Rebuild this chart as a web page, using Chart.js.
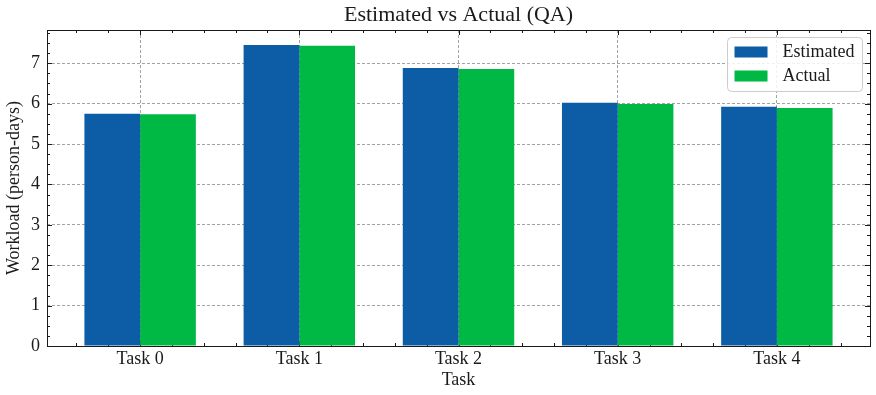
<!DOCTYPE html>
<html>
<head>
<meta charset="utf-8">
<script src="https://cdn.jsdelivr.net/npm/chart.js@4.4.1/dist/chart.umd.min.js"></script>
<style>
  html, body { margin: 0; padding: 0; background: #fff; }
  canvas { display: block; }
</style>
</head>
<body>
<canvas id="qaChart" width="876" height="395"></canvas>
<script>
const categories = ['Task 0', 'Task 1', 'Task 2', 'Task 3', 'Task 4'];
const estimated = [5.75, 7.45, 6.88, 6.02, 5.92];
const actual = [5.74, 7.43, 6.86, 5.99, 5.89];
const seriesNames = ['Estimated', 'Actual'];
const yTicks = [0, 1, 2, 3, 4, 5, 6, 7];

const FONT = "'Liberation Serif', 'Times New Roman', serif";
const INK = '#1a1a1a';

// matplotlib-style autoscale margins
const yMax = Math.max(...estimated, ...actual) * 1.05;
const xMin = -0.35 - 0.05 * (categories.length - 1 + 0.7);
const xMax = categories.length - 1 + 0.35 + 0.05 * (categories.length - 1 + 0.7);

// inward ticks on all four sides, like the scienceplots style
const inwardTicks = {
  id: 'inwardTicks',
  beforeDatasetsDraw(chart) {
    const {ctx, chartArea: a, scales: {x, y}} = chart;
    ctx.save();
    ctx.strokeStyle = INK;
    ctx.lineWidth = 1;
    ctx.beginPath();
    const xt = (v, len) => {
      const p = Math.round(x.getPixelForValue(v)) + 0.5;
      ctx.moveTo(p, a.bottom); ctx.lineTo(p, a.bottom - len);
      ctx.moveTo(p, a.top); ctx.lineTo(p, a.top + len);
    };
    const yt = (v, len) => {
      const p = Math.round(y.getPixelForValue(v)) + 0.5;
      ctx.moveTo(a.left, p); ctx.lineTo(a.left + len, p);
      ctx.moveTo(a.right, p); ctx.lineTo(a.right - len, p);
    };
    for (let k = Math.ceil(xMin * 5); k <= Math.floor(xMax * 5); k++) {
      xt(k / 5, k % 5 === 0 ? 5 : 3);
    }
    for (let k = 1; k * 0.25 < yMax; k++) {
      yt(k / 4, k % 4 === 0 ? 5 : 3);
    }
    ctx.stroke();
    ctx.restore();
  },
  afterDatasetsDraw(chart) {
    const {ctx, chartArea: a} = chart;
    ctx.save();
    ctx.strokeStyle = INK;
    ctx.lineWidth = 1;
    ctx.strokeRect(Math.round(a.left) + 0.5, Math.round(a.top) + 0.5,
      Math.round(a.right - a.left), Math.round(a.bottom - a.top));
    ctx.restore();
  }
};

// boxed legend in the upper right corner of the axes
const boxLegend = {
  id: 'boxLegend',
  afterDraw(chart) {
    const {ctx, chartArea: a} = chart;
    const sets = chart.data.datasets;
    ctx.save();
    ctx.font = `18px ${FONT}`;
    const textW = Math.max(...sets.map(d => ctx.measureText(d.label).width));
    const w = 7 + 33 + 15 + textW + 8;
    const h = 54;
    const left = a.right - 7.5 - w;
    const top = a.top + 7.5;
    ctx.beginPath();
    ctx.roundRect(left, top, w, h, 4);
    ctx.fillStyle = 'rgba(255,255,255,0.85)';
    ctx.fill();
    ctx.strokeStyle = '#cccccc';
    ctx.lineWidth = 1;
    ctx.stroke();
    sets.forEach((d, i) => {
      const cy = top + 14.5 + i * 24;
      ctx.fillStyle = d.backgroundColor;
      ctx.fillRect(left + 7, cy - 5.5, 33, 11);
      ctx.fillStyle = INK;
      ctx.textBaseline = 'middle';
      ctx.textAlign = 'left';
      ctx.fillText(d.label, left + 55, cy + 0.5);
    });
    ctx.restore();
  }
};

const data = {
  datasets: [{
    label: seriesNames[0],
    backgroundColor: '#0C5DA5',
    data: estimated.map((v, i) => ({x: i, y: v}))
  }, {
    label: seriesNames[1],
    backgroundColor: '#00B945',
    data: actual.map((v, i) => ({x: i, y: v}))
  }]
};

const chartConfig = {
  type: 'bar',
  data,
  options: {
    responsive: false,
    animation: false,
    categoryPercentage: 0.7,
    barPercentage: 1.0,
    borderWidth: 0,
    layout: { padding: {left: 0, right: 6, top: 0, bottom: 0} },
    plugins: {
      legend: { display: false },
      tooltip: { enabled: false },
      title: {
        display: true,
        text: 'Estimated vs Actual (QA)',
        fullSize: false,
        color: INK,
        font: { family: FONT, size: 22, weight: 'normal', lineHeight: 1.2 },
        padding: { top: 1.6, bottom: 2 }
      }
    },
    scales: {
      x: {
        type: 'linear',
        min: xMin,
        max: xMax,
        offset: false,
        grid: { offset: false, color: '#8c8c8c', lineWidth: 0.8, drawTicks: false },
        border: { display: false, dash: [3, 2] },
        afterBuildTicks: s => { s.ticks = categories.map((c, i) => ({value: i})); },
        afterFit: s => { s.height = 49; },
        ticks: {
          autoSkip: false,
          maxRotation: 0,
          padding: 2,
          color: INK,
          font: { family: FONT, size: 18 },
          callback: v => categories[v]
        },
        title: {
          display: true,
          text: 'Task',
          color: INK,
          font: { family: FONT, size: 18 },
          padding: { top: 0, bottom: 4.3 }
        }
      },
      y: {
        min: 0,
        max: yMax,
        grid: { color: '#8c8c8c', lineWidth: 0.8, drawTicks: false },
        border: { display: false, dash: [3, 2] },
        afterBuildTicks: s => { s.ticks = yTicks.map(v => ({value: v})); },
        afterFit: s => { s.width = 47; },
        ticks: {
          padding: 7,
          color: INK,
          font: { family: FONT, size: 18 },
          callback: v => String(v)
        },
        title: {
          display: true,
          text: 'Workload (person-days)',
          color: INK,
          font: { family: FONT, size: 18 },
          padding: { top: 3.8, bottom: 0 }
        }
      }
    }
  },
  plugins: [inwardTicks, boxLegend]
};

const currentChart = new Chart(document.getElementById('qaChart'), chartConfig);
</script>
</body>
</html>
